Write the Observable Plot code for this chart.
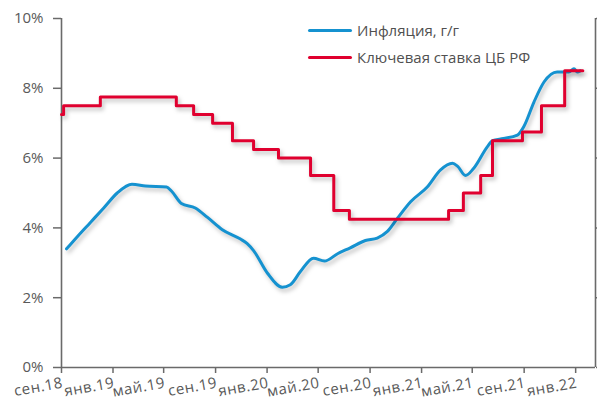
<!DOCTYPE html>
<html><head><meta charset="utf-8">
<script src="https://cdn.jsdelivr.net/npm/d3@7"></script>
<script src="https://cdn.jsdelivr.net/npm/@observablehq/plot@0.6"></script>
<style>
html,body{margin:0;padding:0;background:#fff;}
#wrap{position:relative;width:597px;height:412px;overflow:hidden;font-family:"Open Sans",sans-serif;}
.leg{position:absolute;left:308px;font-size:15px;color:#505050;white-space:nowrap;line-height:20px;}
.leg span.sw{display:inline-block;width:44px;height:3px;vertical-align:middle;margin-right:5px;border-radius:2px;position:relative;top:-1px;}
</style></head><body>
<div id="wrap"></div>
<script>
// Inflation, y/y (%)
const inflDates = ["2018-09-13","2018-10-10","2018-11-08","2018-12-10","2019-01-11","2019-02-15","2019-03-19","2019-05-08","2019-05-20","2019-06-12","2019-07-15","2019-08-13","2019-09-17","2019-10-30","2019-11-15","2019-11-30","2020-01-02","2020-02-06","2020-02-25","2020-03-20","2020-04-20","2020-05-16","2020-06-16","2020-07-16","2020-08-21","2020-09-18","2020-10-12","2020-11-05","2020-12-06","2021-01-15","2021-02-15","2021-03-15","2021-03-27","2021-04-15","2021-05-04","2021-06-06","2021-06-18","2021-07-14","2021-08-16","2021-08-31","2021-09-24","2021-10-18","2021-11-18","2021-12-16","2021-12-28","2022-01-05","2022-01-12"];
const inflValues = [3.4,3.77,4.15,4.57,5.0,5.25,5.2,5.17,5.05,4.7,4.57,4.3,3.95,3.68,3.55,3.35,2.7,2.3,2.37,2.75,3.13,3.05,3.26,3.43,3.64,3.71,3.9,4.28,4.75,5.18,5.66,5.85,5.77,5.5,5.7,6.33,6.5,6.56,6.66,6.9,7.6,8.18,8.47,8.47,8.56,8.47,8.5];
// Key rate of the Bank of Russia (%)
const rateDates = ["2018-09-01","2018-09-06","2018-12-02","2019-05-31","2019-07-11","2019-08-25","2019-10-11","2019-11-30","2020-01-28","2020-04-13","2020-06-07","2020-07-14","2021-03-06","2021-04-10","2021-05-21","2021-06-18","2021-08-28","2021-10-12","2021-12-06","2022-01-18"];
const rateValues = [7.25,7.5,7.75,7.5,7.25,7.0,6.5,6.25,6.0,5.5,4.5,4.25,4.5,5.0,5.5,6.5,6.75,7.5,8.5,8.5];
// Axis
const tickDates = ["2018-09-01","2019-01-01","2019-05-01","2019-09-01","2020-01-01","2020-05-01","2020-09-01","2021-01-01","2021-05-01","2021-09-01","2022-01-01"];
const tickLabels = ["сен.18","янв.19","май.19","сен.19","янв.20","май.20","сен.20","янв.21","май.21","сен.21","янв.22"];
const yTicks = [0,2,4,6,8,10];
const seriesNames = ["Инфляция, г/г","Ключевая ставка ЦБ РФ"];
const seriesColors = ["#1592D0","#E0002F"];
const xDomain = ["2018-09-01","2022-02-17"];

const parse = d3.utcParse("%Y-%m-%d");
const infl = inflDates.map((d,i)=>({date:parse(d), v:inflValues[i]}));
const rate = rateDates.map((d,i)=>({date:parse(d), v:rateValues[i]}));
const ticks = tickDates.map((d,i)=>({date:parse(d), label:tickLabels[i]}));
const axisColor = "#6a6a6a";

const chart = Plot.plot({
  width: 597, height: 412,
  marginLeft: 61, marginRight: 2, marginTop: 18, marginBottom: 45,
  style: {fontFamily: "Open Sans", fontSize: "15px", color: "#595959", background: "#fff"},
  x: {type: "utc", domain: xDomain.map(parse)},
  y: {domain: [0,10]},
  marks: [
    Plot.axisY({ticks: yTicks, tickSize: 8, tickPadding: 10, tickFormat: d => d + "%", label: null, stroke: axisColor, strokeWidth: 1.5, fill: "#595959", fontSize: 15}),
    Plot.axisY({anchor: "right", ticks: yTicks, tickSize: 8, tickFormat: () => "", label: null, stroke: axisColor, strokeWidth: 1.5}),
    Plot.axisX({ticks: tickDates.map(parse), tickSize: 6, tickFormat: () => "", label: null, stroke: axisColor, strokeWidth: 1.5}),
    Plot.text(ticks, {x: "date", text: "label", frameAnchor: "bottom", dy: 20, dx: 2, rotate: -10, textAnchor: "end", fill: "#595959", fontSize: 15, letterSpacing: "0.5px"}),
    Plot.ruleX([parse(xDomain[0]), parse(xDomain[1])], {stroke: axisColor, strokeWidth: 1.6}),
    Plot.ruleY([0], {stroke: axisColor, strokeWidth: 1.6}),
    Plot.line(infl, {x: "date", y: "v", stroke: seriesColors[0], strokeWidth: 3, curve: "monotone-x"}),
    Plot.line(rate, {x: "date", y: "v", stroke: seriesColors[1], strokeWidth: 3, curve: "step-after"})
  ]
});
chart.querySelectorAll('g[aria-label="line"]').forEach(g => g.style.filter = "drop-shadow(2px 3px 2px rgba(0,0,0,0.25))");
chart.querySelectorAll('g[aria-label="text"] text').forEach(t => t.style.letterSpacing = "0.5px");
const wrap = document.getElementById("wrap");
wrap.appendChild(chart);
seriesNames.forEach((n,i) => {
  const d = document.createElement("div");
  d.className = "leg";
  d.style.top = (20 + i*27) + "px";
  d.innerHTML = `<span class="sw" style="background:${seriesColors[i]}"></span>${n}`;
  wrap.appendChild(d);
});
</script>
</body></html>
